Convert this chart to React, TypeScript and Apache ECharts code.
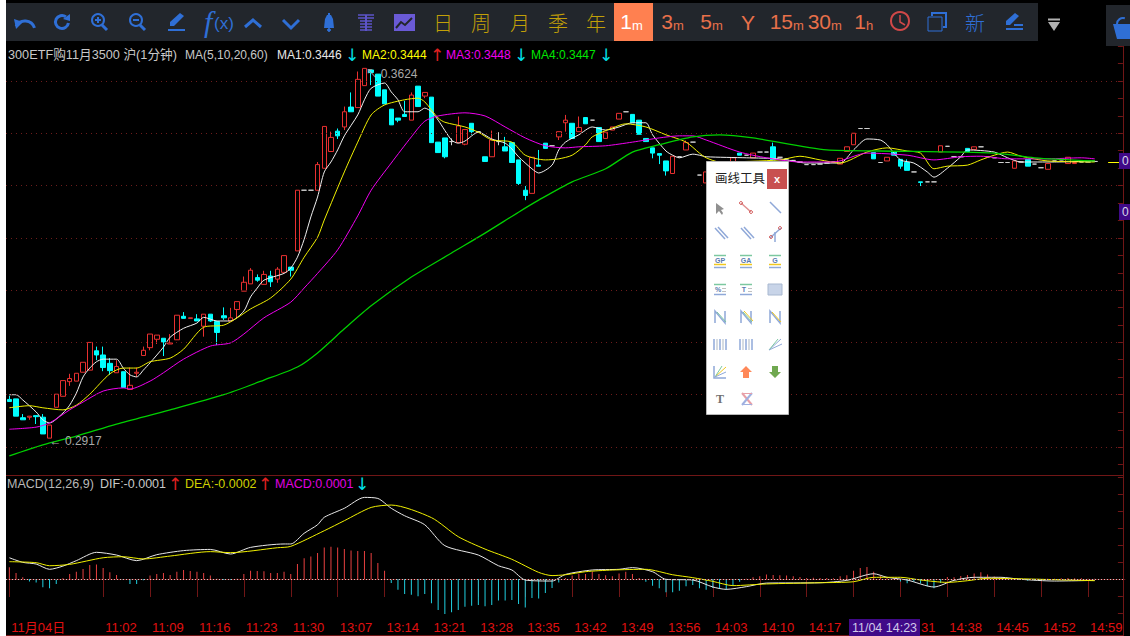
import React, { useEffect, useRef } from "react";
import * as echarts from "echarts";

const FONT = '"Liberation Sans", "Noto Sans CJK SC", sans-serif';
const CJK = '"Noto Sans CJK SC", sans-serif';

// [open, close] or [open, close, low, high], one row per minute from 10:48
const candles: number[][] = [
  [.2991,.2987,.2987,.2998],[.2992,.2959],[.2956,.2952,.2952,.2963],[.2957,.2959,.2952,.2959],[.2960,.2958,.2944,.2960],
  [.2957,.2925,.2925,.2963],[.2917,.2942],[.2976,.3001],[.2997,.3027],[.3025,.3031,.3017,.3040],
  [.3026,.3041],[.3043,.3062],[.3047,.3100],[.3084,.3076,.3066,.3092],[.3076,.3052,.3045,.3092],
  [.3060,.3046,.3038,.3070],[.3042,.3054,.3042,.3066],[.3044,.3014],[.3010,.3018,.3010,.3052],[.3041,.3043,.3034,.3052],
  [.3075,.3085,.3075,.3092],[.3090,.3116,.3085,.3116],[.3106,.3114,.3097,.3114],[.3108,.3101,.3074,.3108],[.3097,.3099,.3097,.3116],
  [.3105,.3152],[.3150,.3146,.3146,.3158],[.3146,.3147],[.3145,.3141,.3141,.3154],[.3131,.3154,.3111,.3154],
  [.3154,.3141,.3139,.3154],[.3140,.3119,.3095,.3140],[.3151,.3147,.3143,.3167],[.3141,.3147,.3141,.3166],[.3163,.3178,.3146,.3178],
  [.3198,.3215,.3198,.3226],[.3212,.3238,.3212,.3242],[.3224,.3219,.3216,.3230],[.3211,.3230,.3211,.3237],[.3227,.3216,.3206,.3237],
  [.3221,.3240,.3214,.3244],[.3234,.3266],[.3244,.3238,.3226,.3244],[.3275,.3391],[.3391,.3391],
  [.3391,.3391],[.3391,.3440,.3391,.3445],[.3433,.3513],[.3465,.3492,.3465,.3503],[.3504,.3495,.3489,.3509],
  [.3512,.3541,.3506,.3551],[.3550,.3541,.3541,.3578],[.3549,.3603,.3549,.3618],[.3591,.3624],[.3621,.3616,.3592,.3621],
  [.3613,.3571],[.3583,.3556],[.3546,.3516],[.3529,.3525,.3521,.3529],[.3536,.3532,.3532,.3562],
  [.3525,.3573,.3525,.3578],[.3590,.3551],[.3571,.3578,.3567,.3578],[.3569,.3482],[.3483,.3463],
  [.3491,.3455,.3452,.3491],[.3484,.3484,.3477,.3490],[.3482,.3514,.3482,.3532],[.3479,.3507,.3477,.3507],[.3519,.3503,.3497,.3519],
  [.3503,.3503],[.3455,.3446],[.3455,.3487,.3455,.3505],[.3484,.3484,.3477,.3502],[.3474,.3466,.3466,.3493],
  [.3482,.3444],[.3449,.3404,.3401,.3449],[.3391,.3381,.3372,.3399],[.3385,.3454],[.3439,.3437,.3437,.3468],
  [.3481,.3471],[.3476,.3476],[.3493,.3503,.3487,.3503],[.3520,.3525,.3503,.3535],[.3519,.3490],
  [.3503,.3511,.3503,.3532],[.3530,.3518],[.3525,.3525],[.3511,.3484],[.3490,.3502],
  [.3506,.3512],[.3527,.3538],[.3541,.3541],[.3536,.3520],[.3525,.3498],
  [.3490,.3484],[.3472,.3462,.3452,.3472],[.3461,.3458,.3441,.3461],[.3447,.3428,.3419,.3447],[.3423,.3456],
  [.3455,.3455],[.3468,.3482,.3468,.3486],[.3483,.3483],[.3420,.3420],[.3405,.3426],
  [.3430,.3430],[.3430,.3434],[.3441,.3441],[.3434,.3453],[.3462,.3458],
  [.3458,.3458],[.3453,.3462],[.3464,.3464],[.3464,.3464],[.3474,.3449,.3449,.3482],
  [.3454,.3454],[.3451,.3451],[.3448,.3448],[.3445,.3445],[.3440,.3440],
  [.3440,.3440],[.3441,.3441],[.3443,.3443],[.3445,.3445],[.3441,.3452],
  [.3465,.3474],[.3478,.3500],[.3509,.3509],[.3509,.3509],[.3463,.3451],
  [.3444,.3444],[.3447,.3454],[.3465,.3458],[.3450,.3437,.3432,.3450],[.3444,.3429,.3429,.3450],
  [.3426,.3426],[.3407,.3406,.3399,.3407],[.3407,.3407],[.3407,.3407],[.3464,.3476],
  [.3475,.3475],[.3455,.3455],[.3455,.3455],[.3471,.3465],[.3469,.3474],
  [.3474,.3474],[.3455,.3455],[.3453,.3453],[.3444,.3444],[.3444,.3444],
  [.3433,.3447],[.3445,.3445],[.3450,.3437],[.3441,.3441],[.3434,.3434],
  [.3431,.3442],[.3447,.3447],[.3449,.3449],[.3442,.3454],[.3442,.3444],
  [.3445,.3445],[.3445,.3445],[.3446,.3446],
];

// moving averages: [minute index, value], read at the bends of each line
const ma1 = [[0,.3000],[1,.3000],[2,.2990],[4,.2967],[5,.2952],[6,.2946],[8,.2965],[9,.2980],[10,.3003],[11,.3034],[12,.3051],[13,.3063],[14,.3068],[16,.3068],[17,.3051],[18,.3038],[19,.3034],[20,.3047],[21,.3061],[23,.3091],[24,.3110],[26,.3127],[28,.3137],[29,.3148],[31,.3141],[33,.3141],[35,.3160],[36,.3187],[37,.3204],[38,.3219],[41,.3232],[42,.3242],[43,.3263],[44,.3297],[45,.3340],[46,.3378],[47,.3426],[48,.3445],[49,.3468],[50,.3495],[52,.3535],[53,.3564],[54,.3586],[56,.3596],[57,.3579],[58,.3564],[59,.3541],[61,.3541],[62,.3548],[63,.3541],[64,.3525],[66,.3487],[67,.3481],[68,.3485],[70,.3502],[72,.3489],[74,.3481],[75,.3470],[76,.3455],[78,.3432],[79,.3424],[81,.3439],[82,.3468],[83,.3483],[85,.3497],[87,.3512],[89,.3506],[91,.3512],[93,.3520],[95,.3520],[96,.3497],[98,.3466],[99,.3458],[100,.3453],[102,.3460],[103,.3458],[104,.3455],[110,.3453],[115,.3451],[119,.3443],[124,.3443],[126,.3468],[128,.3489],[130,.3487],[131,.3478],[133,.3449],[135,.3443],[137,.3426],[138,.3416],[140,.3433],[142,.3455],[143,.3468],[147,.3464],[149,.3453],[151,.3445],[156,.3445],[162,.3447]];
const ma2 = [[0,.2975],[3,.2979],[5,.2975],[8,.2971],[10,.2980],[12,.3001],[15,.3040],[17,.3051],[19,.3051],[21,.3063],[24,.3070],[26,.3087],[29,.3129],[32,.3133],[34,.3147],[36,.3164],[39,.3185],[42,.3221],[44,.3263],[46,.3301],[47,.3334],[50,.3426],[52,.3483],[54,.3535],[56,.3554],[59,.3564],[61,.3567],[62,.3560],[64,.3529],[65,.3521],[68,.3512],[70,.3502],[72,.3487],[75,.3483],[77,.3458],[80,.3449],[82,.3451],[84,.3458],[86,.3478],[87,.3493],[90,.3510],[92,.3518],[95,.3512],[98,.3497],[101,.3483],[103,.3462],[104,.3453],[106,.3445],[115,.3449],[118,.3456],[121,.3449],[124,.3443],[128,.3464],[131,.3472],[134,.3466],[136,.3462],[138,.3432],[140,.3437],[143,.3439],[145,.3449],[147,.3458],[149,.3464],[151,.3456],[155,.3447],[162,.3445]];
const ma3 = [[0,.2934],[4,.2938],[6,.2946],[9,.2971],[11,.2986],[14,.3007],[17,.3013],[18,.3011],[21,.3026],[23,.3042],[26,.3068],[30,.3093],[33,.3099],[35,.3116],[38,.3147],[42,.3177],[44,.3204],[46,.3232],[49,.3277],[52,.3342],[54,.3391],[57,.3443],[60,.3493],[62,.3523],[64,.3533],[68,.3539],[71,.3533],[74,.3512],[77,.3491],[80,.3476],[83,.3472],[85,.3474],[89,.3476],[93,.3483],[97,.3491],[100,.3495],[102,.3495],[104,.3487],[109,.3464],[113,.3453],[118,.3445],[123,.3445],[128,.3462],[134,.3458],[138,.3449],[142,.3455],[145,.3456],[149,.3451],[155,.3451],[160,.3453],[162,.3451]];
const ma4 = [[0,.2883],[5,.2904],[10,.2921],[16,.2944],[24,.2971],[32,.3000],[38,.3028],[43,.3053],[46,.3080],[50,.3126],[54,.3170],[60,.3225],[66,.3271],[71,.3309],[76,.3349],[79,.3372],[84,.3407],[89,.3432],[93,.3464],[97,.3478],[102,.3493],[106,.3497],[111,.3491],[122,.3468],[130,.3466],[147,.3462],[153,.3453],[162,.3447]];

const macdBars = [
  .00069,.00035,.0001,-.00014,-.0002,-.00049,-.00055,-.00029,.00004,.00029,
  .00043,.00059,.00082,.00086,.00065,.00039,.00024,-.00006,-.00029,-.00029,
  -.00008,.0002,.00029,.00035,.00024,.00043,.00053,.00047,.00043,.00035,
  .0002,.00002,-.00006,-.00004,.00002,.00029,.00049,.00047,.00045,.00035,
  .00035,.00043,.00029,.00088,.00122,.00133,.00153,.00186,.0019,.00186,
  .00176,.00167,.00165,.00165,.00153,.00094,.00049,-.00024,-.00063,-.00088,
  -.00092,-.00102,-.00088,-.00143,-.00182,-.00206,-.00196,-.00182,-.00163,-.00157,
  -.00153,-.00161,-.00153,-.00127,-.00127,-.00123,-.00147,-.00167,-.00112,-.00114,
  -.00082,-.00053,-.0002,.00006,.0002,.00031,.00029,.00043,.00029,.00022,
  .00016,.00033,.00043,.00029,.00006,-.00016,-.00039,-.00055,-.00078,-.00078,
  -.00069,-.00043,-.00035,-.00055,-.00063,-.00053,-.00059,-.00063,-.00039,-.00016,
  .00002,.0001,.00016,.00027,.00024,.00022,.0002,.00016,.00012,.00006,
  .00008,.00006,.00006,.00004,.00016,.00022,.00049,.00065,.00071,.00043,
  .0002,.00006,.00004,-.00014,-.00025,-.00016,-.00027,-.00043,-.00055,-.00024,
  .00012,.0001,.00018,.00024,.00033,.00039,.00027,.00014,.00008,.00004,
  .00002,-.00006,-.0001,-.00008,-.00004,.00002,.00002,.00004,.00006,.00004,
  .00004,.00002,.00002,
];
const dif = [[0,.00125],[2,.00098],[4,.00088],[6,.00057],[8,.00076],[10,.00108],[13,.00157],[16,.00141],[19,.00108],[22,.00143],[26,.00167],[30,.00174],[33,.00147],[36,.00186],[41,.00206],[42,.00206],[44,.00269],[46,.00319],[47,.00363],[50,.00416],[53,.0048],[55,.00474],[57,.00416],[59,.00372],[62,.00319],[65,.00196],[70,.00141],[73,.00078],[75,.00053],[77,-.00006],[81,-.00012],[83,.00027],[87,.00053],[91,.00057],[93,.00067],[96,.00043],[98,-.00002],[102,-.00006],[105,-.00047],[107,-.00061],[110,-.00045],[113,-.00024],[121,-.00022],[125,-.00008],[129,.00031],[131,.0001],[134,-.00006],[138,-.00047],[141,-.00008],[144,.0001],[148,.0001],[151,-.00002],[156,-.00012],[162,-.00008]];
const dea = [[0,.00102],[4,.00096],[6,.00078],[9,.00086],[14,.00125],[17,.00131],[20,.00118],[24,.00135],[30,.00161],[33,.00155],[40,.00184],[42,.00192],[47,.00284],[50,.00343],[54,.00421],[57,.00435],[63,.00361],[67,.00249],[71,.00176],[75,.00116],[79,.00039],[81,.0002],[83,.00025],[86,.00043],[90,.00053],[95,.00057],[99,.00025],[102,.00008],[105,-.00014],[108,-.00039],[113,-.00029],[121,-.00022],[126,-.00016],[129,.0001],[133,.0001],[136,-.00006],[140,-.0002],[143,-.0001],[146,.00004],[150,.00002],[162,-.0001]];

const xTickIndex = [0,14,21,28,35,42,49,56,63,70,77,84,91,98,105,112,119,126,133,140,147,154,161];
const xTickLabels = ["11月04日","11:02","11:09","11:16","11:23","11:30","13:07","13:14","13:21","13:28","13:35","13:42","13:49","13:56","14:03","14:10","14:17","","","14:38","14:45","14:52","14:59"];
const priceGrid = [.29,.30,.31,.32,.33,.34,.35,.36];
const macdGrid = [.002,.004];
const priceTicks = [.2867,.29,.2933,.2967,.30,.3033,.3067,.31,.3133,.3167,.32,.3233,.3267,.33,.3333,.3367,.34,.3433,.3467,.35,.3533,.3567,.36,.3633,.3667];
const macdTicks = [-.002,-.001,0,.001,.002,.003,.004,.005,.006];
const lowLabel = "← 0.2917";
const highLabel = "↖ 0.3624";

const categories: string[] = [];
for (let m = 648; m <= 690; m++) categories.push(`${Math.floor(m / 60)}:${String(m % 60).padStart(2, "0")}`);
for (let m = 781; m <= 900; m++) categories.push(`${Math.floor(m / 60)}:${String(m % 60).padStart(2, "0")}`);
while (categories.length < 167) categories.push("");

const BLUE = "#2f6fd6", GOLD = "#c2a008", ORANGE = "#e8704a", VIOLET = "#5d54c8", DARKRED = "#701616";

const base = { z: 100, silent: true };
const line = (x1: number, y1: number, x2: number, y2: number, stroke: string, lineWidth = 1) => ({ ...base, type: "line", shape: { x1, y1, x2, y2 }, style: { stroke, lineWidth } });
const rect = (x: number, y: number, width: number, height: number, fill: string, stroke?: string) => ({ ...base, type: "rect", shape: { x, y, width, height }, style: { fill, stroke, lineWidth: stroke ? 1 : 0 } });
const txt = (x: number, y: number, text: string, fill: string, fontSize = 12, extra: any = {}) => ({ ...base, type: "text", x, y, style: { text, fill, fontSize, fontFamily: FONT, verticalAlign: "middle", align: "left", ...extra } });
const poly = (points: number[][], fill: string) => ({ ...base, type: "polygon", shape: { points }, style: { fill } });
const pline = (points: number[][], stroke: string, lineWidth = 1) => ({ ...base, type: "polyline", shape: { points }, style: { stroke, lineWidth, fill: "none" } });
const circ = (cx: number, cy: number, r: number, stroke: string, lineWidth = 2, fill = "none") => ({ ...base, type: "circle", shape: { cx, cy, r }, style: { stroke, lineWidth, fill } });
const arc = (cx: number, cy: number, r: number, a: number, b: number, stroke: string, lineWidth = 3) => ({ ...base, type: "arc", shape: { cx, cy, r, startAngle: a, endAngle: b, clockwise: true }, style: { stroke, lineWidth, fill: "none" } });

const period = (x: number, digit: string, sub: string, color: string) => [
  txt(x, 21.5, digit, color, 21, { align: "right" }),
  txt(x, 25, sub, color, 13),
];
const arrow = (x: number, y: number, ch: string, fill: string) => txt(x, y, ch, fill, 17, { align: "center", fontFamily: '"DejaVu Sans"' });

const toolbar: any[] = [
  rect(0, 0, 6, 636, "#ffffff"),
  rect(6, 3, 1032, 38, "#22262c"),
  rect(1106, 5, 24, 41, "#22262c"),
  // undo, redo
  arc(25, 31, 10, Math.PI * 1.15, Math.PI * 1.9, BLUE),
  poly([[14, 19], [23, 22], [16, 29]], BLUE),
  arc(62, 22, 6.5, -Math.PI * 0.25 + Math.PI * 0.3, -Math.PI * 0.3, BLUE),
  poly([[70, 14], [70, 21], [63, 19]], BLUE),
  // zoom in, zoom out
  circ(98, 20, 6, BLUE), line(102, 25, 107, 30, BLUE, 3), line(95, 20, 101, 20, BLUE, 2), line(98, 17, 98, 23, BLUE, 2),
  circ(136, 20, 6, BLUE), line(140, 25, 145, 30, BLUE, 3), line(133, 20, 139, 20, BLUE, 2),
  // pen
  poly([[170, 26], [170, 22], [180, 13], [184, 16], [174, 26]], BLUE), line(168, 30, 185, 30, BLUE, 2),
  txt(204, 21, "f", BLUE, 30, { fontFamily: '"Liberation Serif", serif', fontStyle: "italic" }),
  txt(214, 23, "(x)", BLUE, 17),
  pline([[245, 27], [253, 20], [261, 27]], BLUE, 3),
  pline([[283, 20], [291, 28], [299, 20]], BLUE, 3),
  // bell
  poly([[324, 28], [325, 19], [327, 15], [331, 15], [333, 19], [334, 28]], BLUE), circ(329, 30, 1.5, BLUE, 1, BLUE), line(329, 13, 329, 15, BLUE, 2),
  // bars
  ...[15, 18, 21, 24, 27, 30].map((y, k) => line(k < 2 ? 358 : 360, y, k < 2 ? 374 : 372, y, VIOLET, 1.5)),
  line(366, 15, 366, 31, VIOLET, 2),
  // chart
  rect(394, 14, 21, 17, "#6a5ad6"),
  pline([[396, 28], [401, 22], [405, 25], [412, 18]], "#22262c", 2),
  ...["日", "周", "月", "季", "年"].map((t, k) => txt([443, 481, 520, 558, 596][k], 22, t, GOLD, 20, { align: "center", fontFamily: CJK, fontWeight: 300 })),
  rect(614, 3, 39, 38, "#ff8050"),
  ...period(632, "1", "m", "#ffffff"),
  ...period(673, "3", "m", ORANGE),
  ...period(712, "5", "m", ORANGE),
  txt(748, 22, "Y", ORANGE, 21, { align: "center" }),
  ...period(793, "15", "m", ORANGE),
  ...period(831, "30", "m", ORANGE),
  ...period(866, "1", "h", ORANGE),
  circ(900, 21, 9, "#d04848"), pline([[900, 15], [900, 22], [905, 25]], "#d04848", 1.5),
  rect(928, 17, 14, 14, "none", BLUE), pline([[932, 16], [932, 13], [946, 13], [946, 27], [943, 27]], BLUE, 2),
  txt(975, 22, "新", BLUE, 20, { align: "center", fontFamily: CJK, fontWeight: 300 }),
  poly([[1006, 25], [1006, 21], [1015, 13], [1019, 16], [1010, 25]], BLUE), line(1006, 29, 1023, 29, BLUE, 2), line(1014, 25, 1023, 25, BLUE, 2),
  line(1048, 19.5, 1060, 19.5, "#b0b0b0", 2), poly([[1048, 22], [1060, 22], [1054, 31]], "#b0b0b0"),
  poly([[1113, 24], [1130, 24], [1130, 39], [1117, 39]], BLUE), arc(1123, 24, 6, Math.PI, Math.PI * 1.6, BLUE, 2),
];

const legendRow: any[] = [
  txt(8, 55, "300ETF购11月3500 沪(1分钟)", "#c8c8c8", 12.7),
  txt(185, 55, "MA(5,10,20,60)", "#c8c8c8", 12),
  txt(277, 55, "MA1:0.3446", "#e8e8e8", 12),
  arrow(352, 55, "↓", "#00e0e8"),
  txt(362, 55, "MA2:0.3444", "#ffff00", 12),
  arrow(437, 55, "↑", "#e02020"),
  txt(446, 55, "MA3:0.3448", "#f000f0", 12),
  arrow(521, 55, "↓", "#00e0e8"),
  txt(531, 55, "MA4:0.3447", "#00e800", 12),
  arrow(606, 55, "↓", "#00e0e8"),
  txt(7, 484, "MACD(12,26,9)", "#b8b8b8", 12.5),
  txt(100, 484, "DIF:-0.0001", "#c8c8c8", 12.5),
  arrow(175, 484, "↑", "#e02020"),
  txt(185, 484, "DEA:-0.0002", "#d0d000", 12.5),
  arrow(265, 484, "↑", "#e02020"),
  txt(275, 484, "MACD:0.0001", "#e000e0", 12.5),
  arrow(362, 484, "↓", "#00e0e8"),
];

const frame: any[] = [
  line(6, 475.5, 1123, 475.5, DARKRED),
  line(6, 635.5, 1123, 635.5, DARKRED),
  line(1123.5, 618, 1123.5, 636, DARKRED),
  rect(849, 619, 71, 17, "#400a88"),
  txt(884.5, 627.5, "11/04 14:23", "#d0c8e8", 12.5, { align: "center" }),
  txt(921, 627.5, "31", "#e01010", 13),
  rect(1119, 153, 11, 16, "#400a88"),
  txt(1122, 161, "0", "#d8d8e8", 12),
  rect(1119, 204, 11, 16, "#400a88"),
  txt(1122, 212, "0", "#d8d8e8", 12),
];

const BLUEI = "#8fa8d8", GREENI = "#7cc8a0", YEL = "#f0c820";
const columns = [720, 746, 775];
const panel: any[] = [
  rect(706.5, 161.5, 82, 253, "#ffffff", "#b8b8b8"),
  txt(740, 177, "画线工具", "#222222", 12.5, { align: "center", fontFamily: CJK }),
  rect(767, 169, 20, 20, "#c85050"),
  txt(777, 179, "x", "#ffffff", 11, { align: "center", fontWeight: "bold" }),
  // row 1
  poly([[716, 203], [716, 214], [719, 211], [722, 215], [723, 213], [721, 210], [724, 209]], "#909090"),
  line(741, 203, 751, 212, "#e09090", 1.5), circ(741, 203, 1.5, "#d05050", 1), circ(751, 212, 1.5, "#d05050", 1),
  line(770, 202, 781, 213, BLUEI, 1.5),
  // row 2
  line(715, 228, 725, 239, BLUEI, 1.5), line(718, 227, 728, 238, BLUEI, 1.5),
  line(741, 228, 751, 239, BLUEI, 1.5), line(744, 227, 754, 238, BLUEI, 1.5),
  line(770, 238, 781, 228, BLUEI, 1.5), line(775, 232, 775, 242, BLUEI, 1.5), circ(771, 237, 1.5, "#d05050", 1), circ(780, 228, 1.5, "#d05050", 1),
  // rows 3 and 4
  ...["GP", "GA", "G"].flatMap((t, k) => [
    line(columns[k] - 6, 255.5, columns[k] + 6, 255.5, GREENI, 1.5),
    txt(columns[k], 260, t, "#5a7ab0", 7, { align: "center", fontWeight: "bold" }),
    line(columns[k] - 6, 264.5, columns[k] + 6, 264.5, YEL, 1.5),
    line(columns[k] - 6, 267.5, columns[k] + 6, 267.5, BLUEI, 1.5),
  ]),
  ...["%", "T"].flatMap((t, k) => [
    line(columns[k] - 6, 284.5, columns[k] + 6, 284.5, GREENI, 1.5),
    txt(columns[k] - 2, 289, t, "#5a7ab0", 7, { align: "center", fontWeight: "bold" }),
    line(columns[k] + 2, 288.5, columns[k] + 6, 288.5, "#c0c0c0"),
    line(columns[k] + 2, 291.5, columns[k] + 6, 291.5, "#c0c0c0"),
    line(columns[k] - 6, 294.5, columns[k] + 6, 294.5, BLUEI, 1.5),
  ]),
  rect(768, 284, 14, 11, "#c8d4e8", "#a8b8d0"),
  // row 5
  ...columns.flatMap((x, k) => [
    pline([[x - 5, 323], [x - 5, 311], [x + 5, 323], [x + 5, 311]], BLUEI, 1.5),
    line(x - 3, 312, x + 6, 322, k === 2 ? YEL : GREENI, 1),
    ...(k === 1 ? [line(x - 2, 311, x + 7, 321, YEL, 1)] : []),
  ]),
  // row 6
  ...[0, 1].flatMap((k) => [-6, -3, 0, 3, 6].map((d, j) => line(columns[k] + d, 339, columns[k] + d, 350, j % 2 ? "#c8d0d8" : BLUEI, 1.5))),
  line(769, 350, 781, 339, BLUEI), line(769, 350, 778, 339, GREENI), line(769, 350, 782, 344, BLUEI),
  // row 7
  pline([[714, 366], [714, 378], [726, 378]], BLUEI, 1.5), line(715, 377, 726, 367, YEL), line(715, 377, 722, 366, GREENI), line(715, 377, 726, 372, BLUEI),
  poly([[746, 366], [752, 372], [749, 372], [749, 378], [743, 378], [743, 372], [740, 372]], "#ff8858"),
  poly([[775, 378], [781, 372], [778, 372], [778, 366], [772, 366], [772, 372], [769, 372]], "#70a850"),
  // row 8
  txt(720, 399, "T", "#707070", 12, { align: "center", fontWeight: "bold", fontFamily: '"Liberation Serif", serif' }),
  line(742, 393, 752, 405, "#e8a0a8", 2), line(752, 393, 742, 405, "#a0b0e0", 2), line(742, 393.5, 752, 393.5, "#e8a0a8", 1), line(742, 404.5, 752, 404.5, "#a0b0e0", 1),
];

const candleData = candles.map((r) => {
  const [o, c] = r;
  const l = r.length > 2 ? r[2] : Math.min(o, c);
  const h = r.length > 2 ? r[3] : Math.max(o, c);
  return o === c ? { value: [o, c, l, h], itemStyle: { borderColor: "#d0d0d0", borderColor0: "#d0d0d0", borderColorDoji: "#d0d0d0" } } : { value: [o, c, l, h] };
});

const maSeries = (name: string, data: number[][], color: string, yAxisIndex = 0, xAxisIndex = 0, extra: any = {}, width = 1) => ({
  name, type: "line", data, xAxisIndex, yAxisIndex, symbol: "none", smooth: 0.25, silent: true, lineStyle: { color, width }, ...extra,
});

const App = () => {
  const ref = useRef<HTMLDivElement>(null);
  useEffect(() => {
    document.body.style.margin = "0";
    document.body.style.background = "#000";
    const chart = echarts.init(ref.current!, undefined, { renderer: "svg" });
    const labelOf = (i: number) => xTickLabels[xTickIndex.indexOf(i)] ?? "";
    const showTick = (i: number) => xTickIndex.includes(i);
    const yCommon = {
      position: "right", offset: -2, scale: true, splitLine: { show: false },
      axisLine: { show: true, onZero: false, lineStyle: { color: DARKRED } }, axisLabel: { show: false },
    };
    chart.setOption({
      animation: false,
      backgroundColor: "#000",
      grid: [
        { left: 6, top: 44, width: 1118.9, height: 431 },
        { left: 6, top: 475, width: 1118.9, height: 143 },
      ],
      xAxis: [
        { type: "category", gridIndex: 0, data: categories, show: false },
        {
          type: "category", gridIndex: 1, data: categories,
          axisLine: { lineStyle: { color: DARKRED } },
          axisTick: { show: true, alignWithLabel: true, length: 18, interval: (i: number) => showTick(i), lineStyle: { color: DARKRED } },
          axisLabel: {
            interval: (i: number) => showTick(i), formatter: (_: string, i: number) => labelOf(i),
            color: "#e01010", fontSize: 13, fontFamily: FONT, align: "left", margin: 3, padding: [0, 0, 0, 2], hideOverlap: false,
          },
        },
      ],
      yAxis: [
        { type: "value", gridIndex: 0, min: .28465, max: .36706, axisTick: { show: true, inside: true, length: 5, customValues: priceTicks, lineStyle: { color: DARKRED } }, ...yCommon },
        { type: "value", gridIndex: 1, min: -.002294, max: .006118, axisTick: { show: true, inside: true, length: 5, customValues: macdTicks, lineStyle: { color: DARKRED } }, ...yCommon },
      ],
      series: [
        {
          name: "K", type: "candlestick", data: candleData, barWidth: 5, silent: true,
          itemStyle: { color: "#000", color0: "#00ffff", borderColor: "#e83030", borderColor0: "#00ffff", borderWidth: 1 },
          markLine: {
            silent: true, symbol: "none", label: { show: false },
            lineStyle: { color: "#6e1c1c", type: [1, 4], width: 1 },
            data: priceGrid.map((v) => ({ yAxis: v })),
          },
          markPoint: {
            silent: true, symbol: "circle", symbolSize: 0,
            label: { show: true, position: "right", color: "#a8a8a8", fontSize: 12, fontFamily: FONT },
            data: [
              { coord: [6, .2912], label: { formatter: lowLabel, offset: [-5, 0] } },
              { coord: [53, .3626], label: { formatter: highLabel, offset: [-4, 7] } },
            ],
          },
        },
        maSeries("MA1", ma1, "#f0f0f0"),
        maSeries("MA2", ma2, "#f0f000", 0, 0, {
          markLine: { silent: true, symbol: "none", label: { show: false }, lineStyle: { color: "#ffff00", type: "solid", width: 1 }, data: [[{ coord: [164, .3445] }, { coord: [166, .3445] }]] },
        }),
        maSeries("MA3", ma3, "#f000f0"),
        maSeries("MA4", ma4, "#00d000", 0, 0, {}, 1.3),
        {
          name: "MACD", type: "bar", xAxisIndex: 1, yAxisIndex: 1, barWidth: 1, silent: true,
          data: macdBars.map((v) => ({ value: v, itemStyle: { color: v >= 0 ? "#e84040" : "#20d0e0" } })),
          markLine: {
            silent: true, symbol: "none", label: { show: false }, lineStyle: { color: "#6e1c1c", type: [1, 4], width: 1 },
            data: macdGrid.map((v) => ({ yAxis: v })),
          },
        },
        maSeries("DIF", dif, "#e8e8e8", 1, 1, {
          markLine: { silent: true, symbol: "none", label: { show: false }, lineStyle: { color: "#c8c8c8", type: [1, 2], width: 1 }, data: [{ yAxis: 0 }] },
        }),
        maSeries("DEA", dea, "#f0f000", 1, 1),
      ],
      graphic: { elements: [...toolbar, ...legendRow, ...frame, ...panel] },
    });
    return () => chart.dispose();
  }, []);
  return <div ref={ref} style={{ position: "fixed", left: 0, top: 0, width: 1130, height: 636 }} />;
};

export default App;
